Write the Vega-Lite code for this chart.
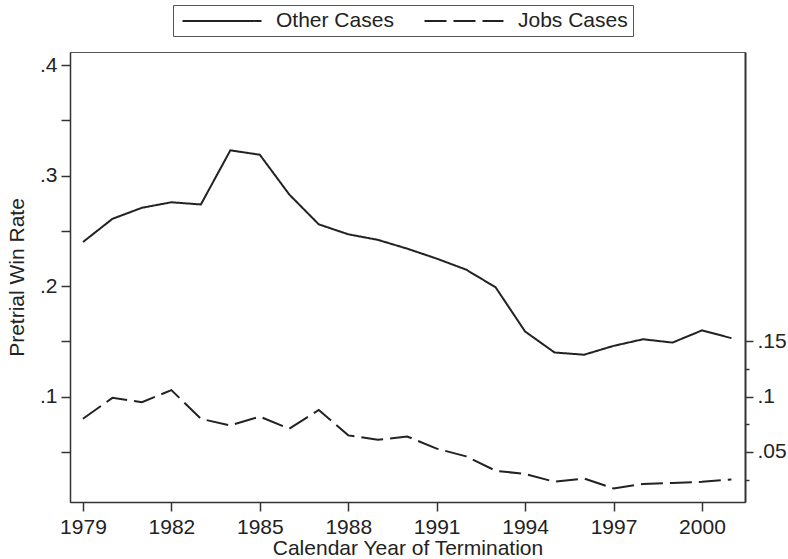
{
  "$schema": "https://vega.github.io/schema/vega-lite/v6.json",
  "width": 675,
  "height": 450,
  "autosize": {"type": "none"},
  "padding": {"left": 70, "top": 52, "right": 43, "bottom": 57},
  "background": "white",
  "config": {
    "font": "Liberation Sans",
    "view": {"stroke": "#555", "strokeWidth": 1},
    "axis": {
      "grid": false,
      "domainColor": "#333",
      "domainWidth": 1.5,
      "tickColor": "#333",
      "tickWidth": 1.5,
      "labelFont": "Liberation Sans",
      "labelFontSize": 21,
      "labelColor": "#222",
      "titleFont": "Liberation Sans",
      "titleFontSize": 21,
      "titleFontWeight": "normal",
      "titleColor": "#222"
    },
    "legend": {
      "labelFont": "Liberation Sans",
      "labelFontSize": 21,
      "labelColor": "#222"
    }
  },
  "data": {
    "values": [
      {"year": 1979, "series": "Other Cases", "rate": 0.240},
      {"year": 1980, "series": "Other Cases", "rate": 0.261},
      {"year": 1981, "series": "Other Cases", "rate": 0.271},
      {"year": 1982, "series": "Other Cases", "rate": 0.276},
      {"year": 1983, "series": "Other Cases", "rate": 0.274},
      {"year": 1984, "series": "Other Cases", "rate": 0.323},
      {"year": 1985, "series": "Other Cases", "rate": 0.319},
      {"year": 1986, "series": "Other Cases", "rate": 0.283},
      {"year": 1987, "series": "Other Cases", "rate": 0.256},
      {"year": 1988, "series": "Other Cases", "rate": 0.247},
      {"year": 1989, "series": "Other Cases", "rate": 0.242},
      {"year": 1990, "series": "Other Cases", "rate": 0.234},
      {"year": 1991, "series": "Other Cases", "rate": 0.225},
      {"year": 1992, "series": "Other Cases", "rate": 0.215},
      {"year": 1993, "series": "Other Cases", "rate": 0.199},
      {"year": 1994, "series": "Other Cases", "rate": 0.159},
      {"year": 1995, "series": "Other Cases", "rate": 0.140},
      {"year": 1996, "series": "Other Cases", "rate": 0.138},
      {"year": 1997, "series": "Other Cases", "rate": 0.146},
      {"year": 1998, "series": "Other Cases", "rate": 0.152},
      {"year": 1999, "series": "Other Cases", "rate": 0.149},
      {"year": 2000, "series": "Other Cases", "rate": 0.160},
      {"year": 2001, "series": "Other Cases", "rate": 0.153},
      {"year": 1979, "series": "Jobs Cases", "rate": 0.080},
      {"year": 1980, "series": "Jobs Cases", "rate": 0.099},
      {"year": 1981, "series": "Jobs Cases", "rate": 0.095},
      {"year": 1982, "series": "Jobs Cases", "rate": 0.106},
      {"year": 1983, "series": "Jobs Cases", "rate": 0.080},
      {"year": 1984, "series": "Jobs Cases", "rate": 0.074},
      {"year": 1985, "series": "Jobs Cases", "rate": 0.082},
      {"year": 1986, "series": "Jobs Cases", "rate": 0.071},
      {"year": 1987, "series": "Jobs Cases", "rate": 0.088},
      {"year": 1988, "series": "Jobs Cases", "rate": 0.065},
      {"year": 1989, "series": "Jobs Cases", "rate": 0.061},
      {"year": 1990, "series": "Jobs Cases", "rate": 0.064},
      {"year": 1991, "series": "Jobs Cases", "rate": 0.053},
      {"year": 1992, "series": "Jobs Cases", "rate": 0.046},
      {"year": 1993, "series": "Jobs Cases", "rate": 0.033},
      {"year": 1994, "series": "Jobs Cases", "rate": 0.030},
      {"year": 1995, "series": "Jobs Cases", "rate": 0.023},
      {"year": 1996, "series": "Jobs Cases", "rate": 0.026},
      {"year": 1997, "series": "Jobs Cases", "rate": 0.017},
      {"year": 1998, "series": "Jobs Cases", "rate": 0.021},
      {"year": 1999, "series": "Jobs Cases", "rate": 0.022},
      {"year": 2000, "series": "Jobs Cases", "rate": 0.023},
      {"year": 2001, "series": "Jobs Cases", "rate": 0.025}
    ]
  },
  "encoding": {
    "x": {
      "field": "year",
      "type": "quantitative",
      "scale": {"domain": [1978.56, 2001.46], "nice": false, "zero": false},
      "axis": {
        "title": "Calendar Year of Termination",
        "values": [1979, 1982, 1985, 1988, 1991, 1994, 1997, 2000],
        "format": "d",
        "tickSize": 9,
        "labelPadding": 5,
        "titlePadding": 0
      }
    },
    "strokeDash": {
      "field": "series",
      "type": "nominal",
      "scale": {"domain": ["Other Cases", "Jobs Cases"], "range": [[1, 0], [22, 7]]},
      "legend": {
        "title": null,
        "orient": "none",
        "direction": "horizontal",
        "legendX": 103,
        "legendY": -47,
        "symbolType": "M-4,0H4",
        "symbolSize": 390,
        "symbolStrokeWidth": 2,
        "symbolStrokeColor": "#222",
        "symbolOffset": 33,
        "labelOffset": 43,
        "columnPadding": 26,
        "padding": 5,
        "strokeColor": "#555",
        "fillColor": "white"
      }
    }
  },
  "layer": [
    {
      "transform": [{"filter": "datum.series == 'Other Cases'"}],
      "mark": {"type": "line", "color": "#222", "strokeWidth": 2},
      "encoding": {
        "y": {
          "field": "rate",
          "type": "quantitative",
          "scale": {"domain": [0.0047, 0.412], "nice": false, "zero": false},
          "axis": {
            "title": "Pretrial Win Rate",
            "orient": "left",
            "values": [0.05, 0.1, 0.15, 0.2, 0.25, 0.3, 0.35, 0.4],
            "labelExpr": "round(datum.value*100) % 10 == 0 ? replace(format(datum.value, '.1f'), '0.', '.') : ''",
            "tickSize": 9,
            "labelPadding": 4,
            "titlePadding": 12
          }
        }
      }
    },
    {
      "transform": [{"filter": "datum.series == 'Jobs Cases'"}],
      "mark": {"type": "line", "color": "#222", "strokeWidth": 2},
      "encoding": {
        "y": {
          "field": "rate",
          "type": "quantitative",
          "scale": {"domain": [0.0047, 0.412], "nice": false, "zero": false},
          "axis": {
            "title": null,
            "orient": "right",
            "values": [0.025, 0.05, 0.075, 0.1, 0.125, 0.15],
            "labelExpr": "round(datum.value*1000) % 50 == 0 ? replace(format(datum.value, '.2~f'), '0.', '.') : ''",
            "tickSize": {"condition": {"test": "round(datum.value*1000) % 50 == 0", "value": 8}, "value": 4},
            "labelPadding": 4,
            "domainWidth": 2
          }
        }
      }
    }
  ],
  "resolve": {"scale": {"y": "independent"}}
}
